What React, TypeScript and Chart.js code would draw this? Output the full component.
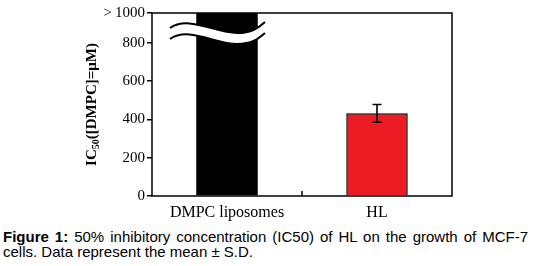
import React, { useEffect, useRef } from "react";
import { Chart, registerables } from "chart.js";

Chart.register(...registerables);

const categories = ["DMPC liposomes", "HL"];
const ic50Values = [1000, 432]; // DMPC value is off-scale (>1000)
const ic50SD = [0, 46];
const yTickValues = [0, 200, 400, 600, 800];
const axisTop = 956;
const axisTopLabel = ">\u20091000";
const barColors = ["#000000", "#ED1C24"];
const yTitleMain = "IC";
const yTitleSub = "50";
const yTitleRest = "([DMPC]=\u03bcM)";

const W = 537;
const H = 222;

const decorPlugin = {
  id: "decor",
  afterDatasetsDraw(chart: any) {
    const ctx = chart.ctx;
    const meta = chart.getDatasetMeta(0);
    const bar = meta.data[0];
    const cx = bar.x;
    const top = chart.chartArea.top;
    // axis-break wave across the off-scale bar
    const up = (dy: number) => [
      [cx - 57, top + 15 + dy],
      [cx - 39, top + 2 + dy],
      [cx - 12, top + 20 + dy],
      [cx + 10, top + 20 + dy],
      [cx + 25, top + 20 + dy],
      [cx + 31, top + 15 + dy],
      [cx + 38, top + 9 + dy],
    ];
    const a = up(0);
    const b = up(11);
    ctx.save();
    ctx.beginPath();
    ctx.moveTo(a[0][0], a[0][1]);
    ctx.bezierCurveTo(a[1][0], a[1][1], a[2][0], a[2][1], a[3][0], a[3][1]);
    ctx.bezierCurveTo(a[4][0], a[4][1], a[5][0], a[5][1], a[6][0], a[6][1]);
    ctx.lineTo(b[6][0], b[6][1]);
    ctx.bezierCurveTo(b[5][0], b[5][1], b[4][0], b[4][1], b[3][0], b[3][1]);
    ctx.bezierCurveTo(b[2][0], b[2][1], b[1][0], b[1][1], b[0][0], b[0][1]);
    ctx.closePath();
    ctx.fillStyle = "#ffffff";
    ctx.fill();
    ctx.strokeStyle = "#000";
    ctx.lineWidth = 2;
    for (const p of [a, b]) {
      ctx.beginPath();
      ctx.moveTo(p[0][0], p[0][1]);
      ctx.bezierCurveTo(p[1][0], p[1][1], p[2][0], p[2][1], p[3][0], p[3][1]);
      ctx.bezierCurveTo(p[4][0], p[4][1], p[5][0], p[5][1], p[6][0], p[6][1]);
      ctx.stroke();
    }
    ctx.restore();
  },
  afterDraw(chart: any) {
    const ctx = chart.ctx;
    const { left, right, top, bottom } = chart.chartArea;
    const ys = chart.scales.y;
    const xs = chart.scales.x;
    ctx.save();
    // error bars
    ctx.strokeStyle = "#000";
    ctx.lineWidth = 1.6;
    const meta = chart.getDatasetMeta(0);
    ic50Values.forEach((v, i) => {
      const sd = ic50SD[i];
      if (!sd) return;
      const x = meta.data[i].x;
      const y1 = ys.getPixelForValue(v + sd);
      const y2 = ys.getPixelForValue(v - sd);
      ctx.beginPath();
      ctx.moveTo(x, y1);
      ctx.lineTo(x, y2);
      ctx.moveTo(x - 4.5, y1);
      ctx.lineTo(x + 4.5, y1);
      ctx.moveTo(x - 4.5, y2);
      ctx.lineTo(x + 4.5, y2);
      ctx.stroke();
    });
    // frame
    ctx.lineWidth = 1.5;
    ctx.strokeRect(left, top, right - left, bottom - top);
    // inward x tick between categories
    for (let i = 0; i < categories.length - 1; i++) {
      const xm = (xs.getPixelForValue(i) + xs.getPixelForValue(i + 1)) / 2;
      ctx.beginPath();
      ctx.moveTo(xm, bottom);
      ctx.lineTo(xm, bottom - 5);
      ctx.stroke();
    }
    // y title with subscript
    ctx.fillStyle = "#000";
    const bigFont = 'bold 15px "Liberation Serif", "Times New Roman", serif';
    const smallFont = 'bold 10px "Liberation Serif", "Times New Roman", serif';
    ctx.font = bigFont;
    const w1 = ctx.measureText(yTitleMain).width;
    const w3 = ctx.measureText(yTitleRest).width;
    ctx.font = smallFont;
    const w2 = ctx.measureText(yTitleSub).width;
    const total = w1 + w2 + w3;
    ctx.translate(96, (top + bottom) / 2);
    ctx.rotate(-Math.PI / 2);
    ctx.textBaseline = "alphabetic";
    ctx.textAlign = "left";
    let x0 = -total / 2;
    ctx.font = bigFont;
    ctx.fillText(yTitleMain, x0, 0);
    x0 += w1;
    ctx.font = smallFont;
    ctx.fillText(yTitleSub, x0, 3);
    x0 += w2;
    ctx.font = bigFont;
    ctx.fillText(yTitleRest, x0, 0);
    ctx.restore();
  },
};

export default function App() {
  const ref = useRef<HTMLCanvasElement>(null);
  useEffect(() => {
    if (!ref.current) return;
    const chart = new Chart(ref.current, {
      type: "bar",
      data: {
        labels: categories,
        datasets: [
          {
            data: ic50Values,
            backgroundColor: barColors,
            borderColor: "#000",
            borderWidth: [0, 1.5],
            categoryPercentage: 1,
            barPercentage: 0.41,
          },
        ],
      },
      options: {
        responsive: false,
        animation: false,
        layout: { padding: { left: 0, right: 85, top: 13, bottom: 0 } },
        plugins: { legend: { display: false }, tooltip: { enabled: false } },
        scales: {
          x: {
            grid: { display: false, drawTicks: false },
            border: { display: false },
            ticks: {
              color: "#000",
              padding: 7,
              maxRotation: 0,
              font: { family: '"Liberation Serif", "Times New Roman", serif', size: 16 },
            },
            afterFit: (s: any) => {
              s.height = H - 196;
            },
          },
          y: {
            min: 0,
            max: axisTop,
            afterBuildTicks: (s: any) => {
              s.ticks = [...yTickValues, axisTop].map((v) => ({ value: v }));
            },
            grid: { drawOnChartArea: false, tickLength: 5, color: "#000", lineWidth: 1.5 },
            border: { display: false },
            ticks: {
              color: "#000",
              padding: 2,
              font: { family: '"Liberation Serif", "Times New Roman", serif', size: 15 },
              callback: (v: any) => (v === axisTop ? axisTopLabel : String(v)),
            },
            afterFit: (s: any) => {
              s.width = 152;
            },
          },
        },
      },
      plugins: [decorPlugin],
    });
    return () => chart.destroy();
  }, []);

  return (
    <div style={{ position: "absolute", left: 0, top: 0, width: W, height: 266, background: "#fff" }}>
      <canvas ref={ref} width={W} height={H} style={{ display: "block", width: W, height: H }} />
      <div
        style={{
          position: "absolute",
          left: 3,
          top: 230,
          width: 525,
          font: '15px "Liberation Sans", Arial, sans-serif',
          lineHeight: "14.5px",
          color: "#000",
        }}
      >
        <div style={{ textAlign: "justify", textAlignLast: "justify", whiteSpace: "normal" }}>
          <b>Figure 1:</b> 50% inhibitory concentration (IC50) of HL on the growth of MCF-7
        </div>
        <div>cells. Data represent the mean ± S.D.</div>
      </div>
    </div>
  );
}
